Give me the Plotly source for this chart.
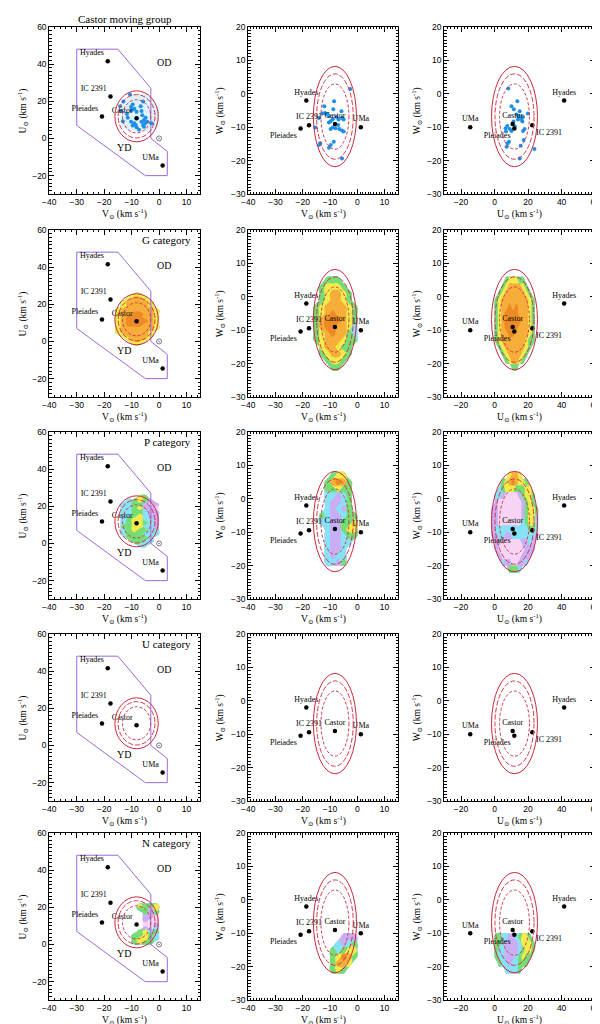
import numpy as np
import plotly.graph_objects as go

# reference groups, heliocentric velocities (km/s)
clu_name = ["Hyades", "IC 2391", "Pleiades", "Castor", "UMa"]
clu_U = [41.5, 22.5, 11.8, 10.8, -14.5]
clu_V = [-18.7, -17.7, -20.8, -8.2, 1.3]
clu_W = [-2.0, -9.4, -10.4, -9.0, -10.0]

# young disc boundary in the V-U plane
yd_V = [-30, -15, -3, -3, 3, 3, -5, -30, -30]
yd_U = [48, 48, 27, 0, -7, -20, -20, 7, 48]

# Castor velocity ellipsoid (centre, semi-axes) and contour scalings
ell_U, ell_V, ell_W = 11.9, -8.2, -6.8
sig_U, sig_V, sig_W = 13.7, 7.9, 15.0
ell_k = [1.0, 0.85, 0.65]

# Castor moving group members
mem_uv_V = [-10.6, -14.2, -13.9, -11.7, -10.2, -10.0, -9.0, -8.2, -6.7, -6.4, -6.1, -5.5, -4.9, -4.3, -5.1,
            -6.4, -5.8, -8.5, -9.0, -10.2, -9.6, -8.2, -7.3, -5.5, -2.7, -13.2, -5.8, -9.6, -11.4, -13.0]
mem_uv_U = [23.6, 17.3, 14.8, 13.1, 16.9, 15.0, 16.0, 14.3, 17.3, 14.8, 12.5, 9.9, 11.1, 9.0, 8.1,
            9.0, 7.2, 7.2, 8.1, 9.0, 6.9, 6.0, 4.6, 6.3, 8.1, 9.3, 19.9, 18.2, 11.1, 19.9]
mem_wv_V = [-2.6, -8.5, -12.1, -8.8, -5.8, -12.8, -11.8, -14.2, -10.4, -7.6, -5.6, -5.0, -6.9, -9.0, -9.8, -10.4,
            -7.0, -9.0, -8.0, -6.6, -5.6, -5.0, -9.8, -15.4, -13.6, -14.0, -10.4, -9.7, -8.6, -5.6, -11.0]
mem_wv_W = [1.4, -2.2, -3.7, -4.6, -5.2, -5.9, -5.7, -7.2, -6.6, -6.9, -7.2, -7.7, -7.7, -7.6, -8.2, -8.6,
            -9.3, -10.1, -10.3, -10.5, -11.0, -11.3, -10.5, -10.1, -14.8, -15.3, -16.1, -15.3, -14.3, -19.3, -6.0]
mem_uw_U = [8.2, 13.6, 10.1, 11.5, 15.0, 13.1, 14.4, 17.0, 19.9, 16.0, 16.6, 14.0, 11.3, 7.6, 6.6, 9.1,
            10.1, 17.9, 17.0, 8.6, 7.2, 7.8, 17.4, 15.6, 23.8, 15.0, 6.8, 12.1]
mem_uw_W = [1.6, -2.2, -3.7, -4.6, -5.2, -6.2, -6.6, -6.9, -5.9, -7.6, -8.3, -7.7, -8.3, -9.6, -10.3, -10.5,
            -11.1, -10.5, -11.1, -14.3, -15.8, -14.8, -13.8, -15.5, -16.5, -19.3, -11.3, -9.8]

# density grids, nodes every 2 km/s; rows run from the top of the panel down
gV = [-17, -15, -13, -11, -9, -7, -5, -3, -1, 1]
gU = [-3, -1, 1, 3, 5, 7, 9, 11, 13, 15, 17, 19, 21, 23, 25, 27]
gW = [-23, -21, -19, -17, -15, -13, -11, -9, -7, -5, -3, -1, 1, 3, 5, 7, 9]

# faint halo behind the Castor members (V-U plane)
C_UV = ["..........", "..........", "....111...", "...11111..", "..111111..", "..1111111.",
        "..1111111.", "..1111111.", "..1111111.", "..1111111.", "..1111111.", "...11111..",
        "..........", "..........", "..........", ".........."]

G_UV = ["..........", "....55....", "...5665...", "..566665..", "..566665..", ".56666665.",
        ".56677665.", ".56777665.", ".56777765.", ".56777665.", ".56666665.", ".5666665..",
        "..566665..", "...5665...", "....55....", ".........."]
G_WV = ["..........", "..........", "...444....", "..45554...", "..456654..", "..456654..",
        ".45666654.", ".45676654.", ".46777654.", ".46776653.", ".45676643.", ".45666544.",
        "..566544..", "..456654..", "...4554...", "....44....", ".........."]
G_UW = ["................", "................", ".....455544.....", "....45666654....",
        "...4566666654...", "..456666666654..", "..456676766654..", "..456777766654..",
        "..456777776654..", "..456777766654..", "..456677666654..", "..456666666544..",
        "...4566666654...", "....45666654....", ".....456654.....", ".......44.......",
        "................"]

P_UV = ["..........", ".....54...", "...34542..", "..3344212.", "..3345221.", "..3344322.",
        "..3345322.", "..3455332.", "..3455432.", "..4455332.", "..3454433.", "..3444333.",
        "...44443..", "....4433..", ".....33...", ".........."]
P_WV = ["..........", "....455...", "...46764..", "...44544..", "...33234..", "...32234..",
        "...32324..", "..4322344.", "..3322445.", "...322455.", "...322344.", "...32233..",
        "...3223...", "...3233...", "...3324...", "..........", ".........."]
P_UW = ["................", "......5665......", "....45676554....", "...3455544455...",
        "..332111124554..", "..211111112454..", ".22111111124554.", ".22111111124553.",
        ".22111111134553.", ".23333333333443.", ".22332233333332.", "..221111112232..",
        "..211111111222..", "...2111111222...", "....32211223....", "......4443......",
        "................"]

U_UV = [".........."] * 16
U_WV = [".........."] * 17
U_UW = ["................"] * 17

N_UV = ["..........", "..........", "..........", ".....5445.", ".....4425.", "......424.",
        "......221.", "......211.", "......112.", "......213.", ".....4534.", "....44543.",
        "....45543.", "....4544..", "..........", ".........."]
N_WV = [".........."] * 10 + ["......222.", ".....3234.", "....43455.", "....45764.",
                               "....4665..", "....454...", ".........."]
N_UW = ["................"] * 10 + ["..44332234554...", "..443222235554..", "..433222234554..",
                                     "..43322234544...", "...433233444....", ".....33334......",
                                     "................"]

titles = ["Castor moving group", "G category", "P category", "U category", "N category"]
density = [None, (G_UV, G_WV, G_UW), (P_UV, P_WV, P_UW), (U_UV, U_WV, U_UW), (N_UV, N_WV, N_UW)]

level_col = ["#f7d4f3", "#c9aef5", "#86e2f5", "#74de74", "#f1ec4c", "#f6ad3a", "#ee8a26"]

SERIF = "Liberation Serif, DejaVu Serif, serif"
FW, FH = 600, 1024
col_px = [(35, 189), (238, 391), (438, 592)]
row_top = [14, 219, 423, 627, 828]
row_h = 169
ytitle_x = [8, 209, 410]

pos_uv = ["top left"] * 5
pos_wv = ["top center", "top center", "bottom left", "top center", "top center"]
pos_uw = ["top center", "bottom right", "bottom left", "top center", "top center"]

proj = [
    dict(cx=clu_V, cy=clu_U, pos=pos_uv, ex=(ell_V, sig_V), ey=(ell_U, sig_U), gx=gV, gy=gU,
         xr=[-40, 15], xd=10, xm=2, yr=[-30, 60], yd=20, ym=2,
         xt="V<sub>\u2299</sub> (km s<sup>-1</sup>)", yt="U<sub>\u2299</sub> (km s<sup>-1</sup>)"),
    dict(cx=clu_V, cy=clu_W, pos=pos_wv, ex=(ell_V, sig_V), ey=(ell_W, sig_W), gx=gV, gy=gW,
         xr=[-40, 15], xd=10, xm=1, yr=[-30, 20], yd=10, ym=1,
         xt="V<sub>\u2299</sub> (km s<sup>-1</sup>)", yt="W<sub>\u2299</sub> (km s<sup>-1</sup>)"),
    dict(cx=clu_U, cy=clu_W, pos=pos_uw, ex=(ell_U, sig_U), ey=(ell_W, sig_W), gx=gU, gy=gW,
         xr=[-30, 60], xd=20, xm=2, yr=[-30, 20], yd=10, ym=1,
         xt="U<sub>\u2299</sub> (km s<sup>-1</sup>)", yt="W<sub>\u2299</sub> (km s<sup>-1</sup>)"),
]
members = [(mem_uv_V, mem_uv_U), (mem_wv_V, mem_wv_W), (mem_uw_U, mem_uw_W)]


def to_levels(rows, nx, ny):
    z = np.array([[0 if ch == "." else int(ch) for ch in r] for r in rows], dtype=float)
    if z.shape != (ny, nx):
        raise ValueError(f"grid shape {z.shape} != {(ny, nx)}")
    return z[::-1]


def add_fill(fig, gx, gy, mask, col, s):
    fig.add_trace(go.Contour(
        x=gx, y=gy, z=mask, xaxis="x" + s, yaxis="y" + s,
        autocontour=False, contours=dict(start=0.5, end=0.5, size=1, coloring="fill", showlines=False),
        colorscale=[[0, "rgba(255,255,255,0)"], [0.49, "rgba(255,255,255,0)"], [0.51, col], [1, col]],
        zmin=0, zmax=1, showscale=False, line=dict(width=0, smoothing=1.3), hoverinfo="skip"))


fig = go.Figure()
layout = {}
shapes = []
annos = []

for r in range(5):
    top = row_top[r]
    for c in range(3):
        n = r * 3 + c + 1
        s = "" if n == 1 else str(n)
        p = proj[c]
        x0, x1 = col_px[c]
        axis_common = dict(showline=True, linecolor="black", linewidth=1, mirror="allticks",
                           ticks="inside", ticklen=5, tickwidth=0.8, tickcolor="black",
                           showgrid=False, zeroline=False,
                           tickfont=dict(family="Liberation Sans, Arial", size=8.5, color="black"))
        layout["xaxis" + s] = dict(axis_common, domain=[x0 / FW, x1 / FW], range=p["xr"], anchor="y" + s,
                                   tick0=0, dtick=p["xd"],
                                   minor=dict(dtick=p["xm"], ticks="inside", ticklen=2.5, tickwidth=0.6,
                                              tickcolor="black", showgrid=False))
        layout["yaxis" + s] = dict(axis_common, domain=[1 - (top + row_h) / FH, 1 - top / FH], range=p["yr"],
                                   anchor="x" + s, tick0=0, dtick=p["yd"],
                                   minor=dict(dtick=p["ym"], ticks="inside", ticklen=2.5, tickwidth=0.6,
                                              tickcolor="black", showgrid=False))

        # density map of the category
        if r == 0 and c == 0:
            add_fill(fig, gV, gU, to_levels(C_UV, len(gV), len(gU)), "#dcf1fa", s)
        if density[r] is not None:
            z = to_levels(density[r][c], len(p["gx"]), len(p["gy"]))
            for k in range(1, 8):
                mask = (z >= k).astype(float)
                if mask.any():
                    add_fill(fig, p["gx"], p["gy"], mask, level_col[k - 1], s)

        if c == 0:
            fig.add_trace(go.Scatter(x=yd_V, y=yd_U, mode="lines", line=dict(color="#9c6ad8", width=1),
                                     xaxis="x" + s, yaxis="y" + s, hoverinfo="skip"))
            fig.add_trace(go.Scatter(x=[0], y=[0], mode="markers", xaxis="x" + s, yaxis="y" + s,
                                     marker=dict(symbol="circle-open-dot", size=5, color="#555",
                                                 line=dict(width=0.8, color="#555"))))
            annos.append(dict(x=1.7, y=41, xref="x" + s, yref="y" + s, text="OD", showarrow=False,
                              font=dict(family=SERIF, size=10, color="black")))
            annos.append(dict(x=-12.6, y=-5.1, xref="x" + s, yref="y" + s, text="YD", showarrow=False,
                              font=dict(family=SERIF, size=10, color="black")))

        if r == 0:
            mx, my = members[c]
            fig.add_trace(go.Scatter(x=mx, y=my, mode="markers", xaxis="x" + s, yaxis="y" + s,
                                     marker=dict(size=4, color="#1f8fe6")))

        fig.add_trace(go.Scatter(x=p["cx"], y=p["cy"], mode="markers+text", text=clu_name,
                                 textposition=p["pos"], xaxis="x" + s, yaxis="y" + s,
                                 textfont=dict(family=SERIF, size=8, color="black"),
                                 marker=dict(size=4.5, color="black")))

        # Castor ellipsoid contours
        (ecx, eax), (ecy, eay) = p["ex"], p["ey"]
        for k, dash, colr in zip(ell_k, ["solid", "5px,2px", "3px,2px"], ["#c8283c", "#d0384a", "#d0384a"]):
            shapes.append(dict(type="circle", xref="x" + s, yref="y" + s,
                               x0=ecx - k * eax, x1=ecx + k * eax, y0=ecy - k * eay, y1=ecy + k * eay,
                               line=dict(color=colr, width=1, dash=dash)))

        # axis titles
        annos.append(dict(x=(x0 + x1) / 2 / FW, y=1 - (top + row_h + 19) / FH, xref="paper", yref="paper",
                          text=p["xt"], showarrow=False, xanchor="center", yanchor="middle",
                          font=dict(family=SERIF, size=9.5, color="black")))
        annos.append(dict(x=ytitle_x[c] / FW, y=1 - (top + row_h / 2) / FH, xref="paper", yref="paper",
                          text=p["yt"], showarrow=False, xanchor="center", yanchor="middle", textangle=-90,
                          font=dict(family=SERIF, size=9.5, color="black")))

    if r == 0:
        annos.append(dict(x=112 / FW, y=1 - 6 / FH, xref="paper", yref="paper", text=titles[0],
                          showarrow=False, xanchor="center", yanchor="middle",
                          font=dict(family=SERIF, size=11, color="black")))
    else:
        annos.append(dict(x=182 / FW, y=1 - (top + 10) / FH, xref="paper", yref="paper", text=titles[r],
                          showarrow=False, xanchor="right", yanchor="middle",
                          font=dict(family=SERIF, size=11, color="black")))

fig.update_layout(**layout)
fig.update_layout(width=FW, height=FH, margin=dict(l=0, r=0, t=0, b=0), showlegend=False,
                  paper_bgcolor="white", plot_bgcolor="white", shapes=shapes, annotations=annos)

fig.write_html("out.html")
